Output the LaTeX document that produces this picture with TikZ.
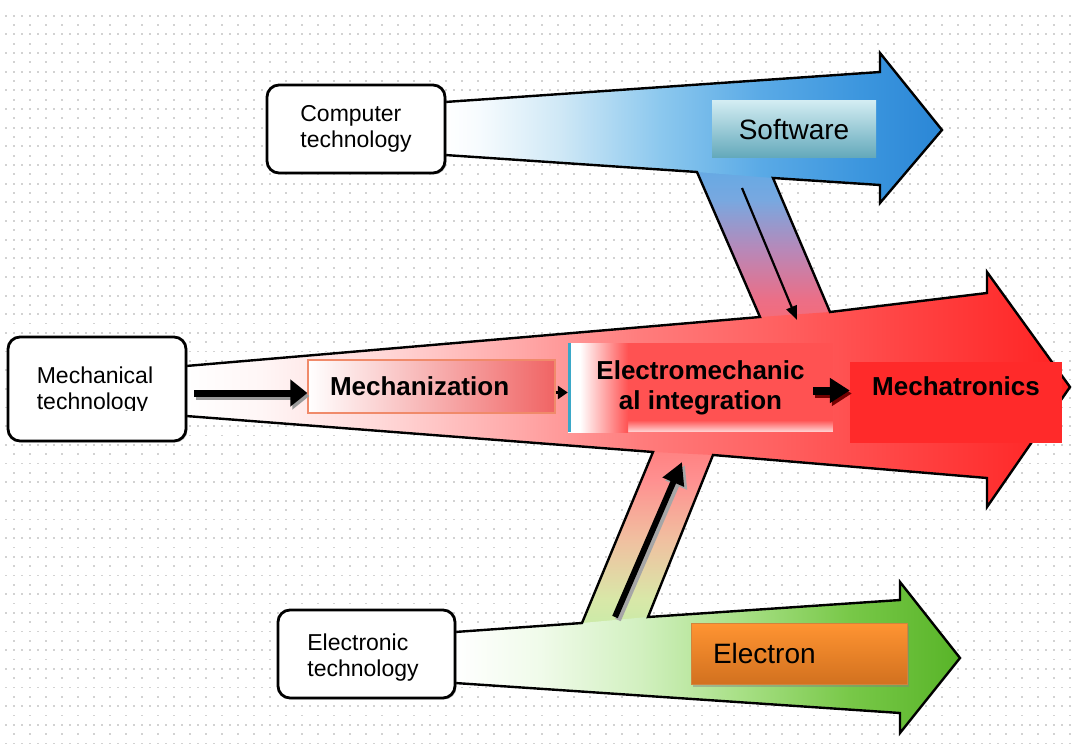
\documentclass[tikz,border=0pt]{standalone}
\usepackage{fontspec}
\setmainfont{Liberation Sans}
\usetikzlibrary{arrows.meta,shadows}

% flow colours
\definecolor{bf1}{HTML}{F6FBFE}
\definecolor{bf2}{HTML}{CFE8F6}
\definecolor{bf3}{HTML}{8CC8EE}
\definecolor{bf4}{HTML}{5AAAE6}
\definecolor{bf5}{HTML}{3C96DE}
\definecolor{bf6}{HTML}{2A86D6}
\definecolor{rf1}{HTML}{FFF6F6}
\definecolor{rf2}{HTML}{FFD8D8}
\definecolor{rf3}{HTML}{FFA8A8}
\definecolor{rf4}{HTML}{FF7C7C}
\definecolor{rf5}{HTML}{FF6060}
\definecolor{rf6}{HTML}{FF4444}
\definecolor{rf7}{HTML}{FF2222}
\definecolor{gf1}{HTML}{F0FBEA}
\definecolor{gf2}{HTML}{D2F0C0}
\definecolor{gf3}{HTML}{A8E086}
\definecolor{gf4}{HTML}{78C848}
\definecolor{gf5}{HTML}{58B428}
\definecolor{bb1}{HTML}{FF6A6A}
\definecolor{bb2}{HTML}{EC6E86}
\definecolor{bb3}{HTML}{B888B8}
\definecolor{bb4}{HTML}{78A8E0}
\definecolor{gb1}{HTML}{C0ECA8}
\definecolor{gb2}{HTML}{D8E8A8}
\definecolor{gb3}{HTML}{F0C0A0}
\definecolor{gb4}{HTML}{FF9090}
\definecolor{gb5}{HTML}{FF7878}
% label colours
\definecolor{softtop}{HTML}{D2ECF2}
\definecolor{softbot}{HTML}{62A8BA}
\definecolor{eltop}{HTML}{FF9432}
\definecolor{elbot}{HTML}{D2711F}
\definecolor{mzred}{HTML}{F06464}
\definecolor{mzpink}{HTML}{FAD4D4}
\definecolor{mzedge}{HTML}{F08A6A}
\definecolor{emired}{HTML}{FF5252}
\definecolor{emiedge}{HTML}{3AA8C8}
\definecolor{mtred}{HTML}{FF2A2A}
\definecolor{dotgray}{HTML}{D2D2D2}

% horizontal flow shadings (path box mapped onto 25bp..75bp)
\pgfdeclarehorizontalshading{blueflow}{100bp}{color(0bp)=(white); color(25bp)=(white);
  color(28.5bp)=(bf1); color(36.6bp)=(bf2); color(46.6bp)=(bf3); color(56.7bp)=(bf4);
  color(66.8bp)=(bf5); color(75bp)=(bf6); color(100bp)=(bf6)}
\pgfdeclarehorizontalshading{redflow}{100bp}{color(0bp)=(white); color(25bp)=(white);
  color(29.2bp)=(rf1); color(36bp)=(rf2); color(43.9bp)=(rf3); color(50.7bp)=(rf4);
  color(58.6bp)=(rf5); color(65.4bp)=(rf6); color(75bp)=(rf7); color(100bp)=(rf7)}
\pgfdeclarehorizontalshading{greenflow}{100bp}{color(0bp)=(white); color(25bp)=(white);
  color(33.4bp)=(gf1); color(43.3bp)=(gf2); color(53.2bp)=(gf3); color(64.1bp)=(gf4);
  color(75bp)=(gf5); color(100bp)=(gf5)}
% vertical shadings (bottom at 25bp, top at 75bp)
\pgfdeclareverticalshading{bluebranch}{100bp}{color(0bp)=(bb1); color(25bp)=(bb1);
  color(36.5bp)=(bb2); color(49.4bp)=(bb3); color(62.2bp)=(bb4); color(75bp)=(bf4);
  color(100bp)=(bf4)}
\pgfdeclareverticalshading{greenbranch}{100bp}{color(0bp)=(gb1); color(25bp)=(gb1);
  color(35.5bp)=(gb2); color(49.4bp)=(gb3); color(63.4bp)=(gb4); color(75bp)=(gb5);
  color(100bp)=(gb5)}
\pgfdeclarehorizontalshading{emilead}{100bp}{color(0bp)=(white); color(25bp)=(white);
  color(35bp)=(white); color(75bp)=(emired); color(100bp)=(emired)}

\begin{document}
\begin{tikzpicture}[x=1pt,y=-1pt,
  dotrow/.style={dotgray, line width=1.8pt},
  flowline/.style={draw=black, line width=2.4pt, line join=miter},
  techbox/.style={draw=black, line width=2.8pt, rounded corners=12pt, fill=white,
    inner sep=0pt, drop shadow={shadow xshift=1.5pt, shadow yshift=-1.5pt, opacity=.35}},
  techtext/.style={align=left, inner sep=0pt, font=\fontsize{23}{26}\selectfont},
  boldlabel/.style={font=\fontsize{26}{30}\selectfont\bfseries},
  fatarrow/.style={line width=7pt, -{Triangle[length=17pt,width=26pt]}},
  midarrow/.style={line width=8pt, -{Triangle[length=20pt,width=24pt]}},
  thinarrow/.style={line width=2.2pt, -{Triangle[length=14pt,width=11pt]}},
  uparrow/.style={line width=6pt, -{Triangle[length=22pt,width=22pt]}}]

\useasboundingbox (0,0) rectangle (1072,749);
\fill[white] (0,0) rectangle (1072,749);

% dotted background grid
\foreach \r in {0,...,78}{
  \pgfmathsetmacro\yy{15.7+9.33*\r}
  \ifodd\r
    \draw[dotrow, dash pattern=on 1.8pt off 14.2pt] (13.1,\yy) -- (1072,\yy);
  \else
    \draw[dotrow, dash pattern=on 1.8pt off 6.2pt] (5.1,\yy) -- (1072,\yy);
  \fi
}

% branch bands joining the flows
\shade[shading=bluebranch] (687.4,150) -- (761,150) -- (844,345) -- (772,345) -- cycle;
\shade[shading=greenbranch] (662,430) -- (723,430) -- (637,645) -- (573,645) -- cycle;

% main flows with arrow heads
\shade[shading=blueflow] (445,102) -- (880,72) -- (880,53) -- (942,130) -- (880,203)
  -- (880,185) -- (773,178) -- (697,172) -- (445,155) -- cycle;
\shade[shading=redflow] (186,366) -- (760,317) -- (830,312) -- (987,293) -- (987,272)
  -- (1070,387) -- (987,507) -- (987,478) -- (713,455) -- (653,452) -- (186,416) -- cycle;
\shade[shading=greenflow] (455,632) -- (582,623) -- (648,617) -- (900,600) -- (900,582)
  -- (960,658) -- (900,733) -- (900,713) -- (455,683) -- cycle;

% outline of the combined flow
\draw[flowline] (445,102) -- (880,72) -- (880,53) -- (942,130) -- (880,203) -- (880,185)
  -- (773,178) -- (830,312) -- (987,293) -- (987,272) -- (1070,387) -- (987,507)
  -- (987,478) -- (713,455) -- (648,617) -- (900,600) -- (900,582) -- (960,658)
  -- (900,733) -- (900,713) -- (455,683);
\draw[flowline] (455,632) -- (582,623) -- (653,452) -- (186,416);
\draw[flowline] (186,366) -- (760,317) -- (697,172) -- (445,155);

% source technologies
\node[techbox, minimum width=178pt, minimum height=88pt] (comp) at (356,129) {};
\node[techtext] (comptxt) at (comp.center) {Computer\\technology};
\node[techbox, minimum width=178pt, minimum height=104pt] (mech) at (97,389) {};
\begin{scope}
  \clip (8,337) rectangle (186,410);
  \node[techtext] (mechtxt) at (95,391) {Mechanical\\technology};
\end{scope}
\node[techbox, minimum width=177pt, minimum height=88pt] (elec) at (366.5,654) {};
\node[techtext] (electxt) at (363,658) {Electronic\\technology};

% flow labels
\node[top color=softtop, bottom color=softbot, minimum width=164pt, minimum height=57pt,
  inner sep=0pt, font=\fontsize{28}{32}\selectfont] (soft) at (794,129.5) {Software\hspace{10pt}};
\node[top color=eltop, bottom color=elbot, draw=eltop!80!black!90, line width=0.6pt,
  minimum height=61pt, text width=172pt, inner xsep=22pt, inner ysep=0pt, align=left,
  font=\fontsize{28}{32}\selectfont,
  drop shadow={shadow xshift=1.5pt, shadow yshift=-3pt, opacity=.45}] (eltr) at (799,653.5) {Electron};

\node[boldlabel, left color=white, middle color=mzpink, right color=mzred, draw=mzedge,
  line width=1.2pt, minimum height=53pt, text width=203pt, inner xsep=22pt, inner ysep=0pt,
  align=left] (mechz) at (431.5,386.5) {Mechanization};

% red label that fades to white on its left side and along its foot
\fill[emired] (568,343) rectangle (833,432);
\foreach \i in {0,...,11}
  \fill[white, opacity=0.065*\i] (568,420+\i) rectangle (833,421+\i);
\shade[shading=emilead] (568,343) rectangle (628,432);
\draw[emiedge, line width=3pt] (569.5,343) -- (569.5,432);
\node[boldlabel, minimum width=265pt, minimum height=89pt, inner sep=0pt, align=center]
  (emi) at (700.5,387.5) {Electromechanic\\al integration};

\node[boldlabel, fill=mtred, minimum width=212pt, text height=19pt, text depth=34pt,
  inner ysep=14pt, inner xsep=0pt, align=center] (mtr) at (956,402.5) {Mechatronics};

% progression arrows
\draw[fatarrow, black!40] ([xshift=9pt,yshift=-7pt]mech.east) -- ([xshift=2pt,yshift=-7pt]mech.east -| mechz.west);
\draw[fatarrow] ([xshift=7pt,yshift=-4pt]mech.east) -- ([yshift=-4pt]mech.east -| mechz.west);
\draw[line width=2.6pt, -{Triangle[length=10pt,width=13pt]}]
  ([yshift=-6pt]mechz.east) -- ([yshift=-6pt]mechz.east -| emi.west);
\draw[midarrow, red!45!black] ([xshift=-18pt,yshift=-6pt]emi.east) -- ([xshift=2pt,yshift=-6pt]emi.east -| mtr.west);
\draw[midarrow] ([xshift=-20pt,yshift=-3pt]emi.east) -- ([yshift=-3pt]emi.east -| mtr.west);

% branch arrows
\coordinate (swtail) at (742,188);
\coordinate (swtip) at (797,320);
\draw[thinarrow] (swtail) -- (swtip);
\coordinate (eltail) at (615,617);
\coordinate (eltip) at (682,462);
\draw[uparrow, black!35] ([xshift=3pt,yshift=-3pt]eltail) -- ([xshift=3pt,yshift=-3pt]eltip);
\draw[uparrow] (eltail) -- (eltip);

\end{tikzpicture}
\end{document}
